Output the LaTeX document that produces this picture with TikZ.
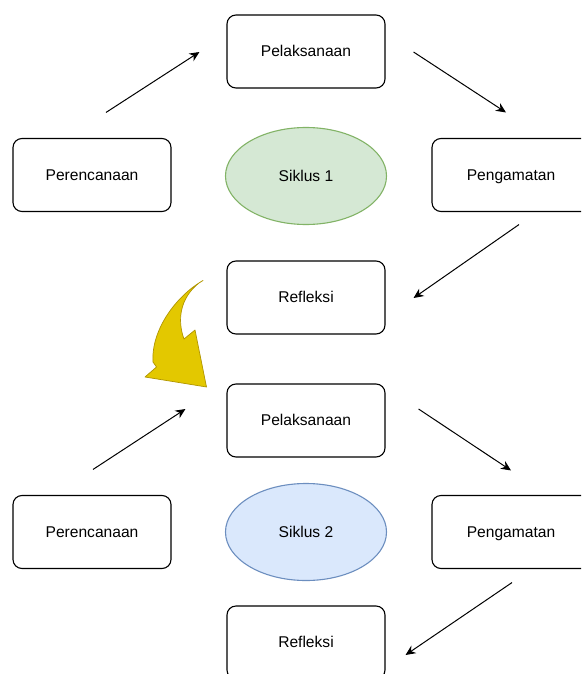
\documentclass[tikz,border=0pt]{standalone}
\usepackage{fontspec}
\setmainfont{Liberation Sans}
\usepackage{tikz}
\usetikzlibrary{arrows,arrows.meta,shapes,positioning}
\definecolor{hijauisi}{HTML}{D5E8D4}
\definecolor{hijaugaris}{HTML}{82B366}
\definecolor{biruisi}{HTML}{DAE8FC}
\definecolor{birugaris}{HTML}{6C8EBF}
\definecolor{kuningisi}{HTML}{E3C800}
\definecolor{kuninggaris}{HTML}{B09500}

\begin{document}
\begin{tikzpicture}[x=1pt,y=1pt]
                    \tikzstyle{every node}+=[inner sep=0pt, text height=10.4pt, text depth=0pt, font=\fontsize{15.6}{18}\selectfont]
                    \tikzstyle{stage}=[draw=black, line width=1.1pt, rounded corners=9pt, minimum width=158pt, minimum height=73pt]
                    \tikzstyle{siklus}=[ellipse, line width=1.1pt, minimum width=161pt, minimum height=97pt]
                    \tikzstyle{flow}=[line width=1pt, -{Stealth[length=10pt,width=9pt]}]
                    \useasboundingbox (0,0) rectangle (581,-674);
                    \clip (0,0) rectangle (581,-674);
                    % siklus 1
                    \node [stage] (pel1) at (306,-51.5) {Pelaksanaan};
                    \node [stage] (per1) at (92,-175) {Perencanaan};
                    \node [siklus, fill=hijauisi, draw=hijaugaris] (sik1) at (306,-176) {Siklus 1};
                    \node [stage] (pen1) at (511,-175) {Pengamatan};
                    \node [stage] (ref1) at (306,-297.5) {Refleksi};
                    \draw [flow] ([shift={(14,25.5)}]per1.north) -- ([shift={(-27,-0.5)}]pel1.west);
                    \draw [flow] ([shift={(28,-0.5)}]pel1.east) -- ([shift={(-5,25.5)}]pen1.north);
                    \draw [flow] ([shift={(8,-12.5)}]pen1.south) -- ([shift={(28,-0.5)}]ref1.east);
                    % siklus 2
                    \node [stage] (pel2) at (306,-420.5) {Pelaksanaan};
                    \node [stage] (per2) at (92,-532) {Perencanaan};
                    \node [siklus, fill=biruisi, draw=birugaris] (sik2) at (306,-532) {Siklus 2};
                    \node [stage] (pen2) at (511,-532) {Pengamatan};
                    \node [stage] (ref2) at (306,-642.5) {Refleksi};
                    \draw [flow] ([shift={(1,25.5)}]per2.north) -- ([shift={(-41,11.5)}]pel2.west);
                    \draw [flow] ([shift={(33,11.5)}]pel2.east) -- ([shift={(0,24.5)}]pen2.north);
                    \draw [flow] ([shift={(1,-13.5)}]pen2.south) -- ([shift={(20,-12.5)}]ref2.east);
                    % panah lengkung kuning
                    \filldraw [fill=kuningisi, draw=kuninggaris, line width=0.7pt, line join=round]
                        (203,-280.5) .. controls (176,-296) and (151,-330) .. (153,-362)
                        -- (156.5,-367) -- (145,-377) -- (206.5,-387) -- (195,-330) -- (184,-339)
                        .. controls (177,-320) and (180,-298) .. (199,-283) -- cycle;
                \end{tikzpicture}
\end{document}
